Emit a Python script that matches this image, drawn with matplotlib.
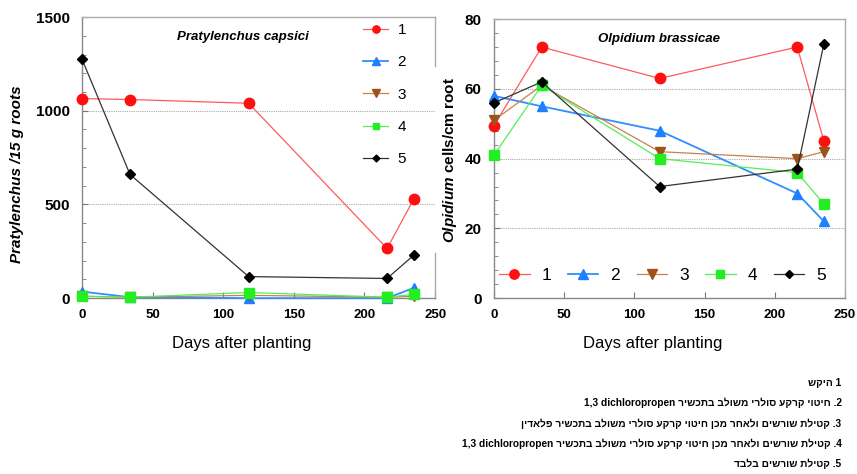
import re
import matplotlib
matplotlib.use("Agg")
import matplotlib.pyplot as plt
from matplotlib.ticker import MultipleLocator

plt.rcParams['font.family'] = ['Liberation Sans', 'DejaVu Sans']
plt.rcParams['mathtext.fontset'] = 'custom'
plt.rcParams['mathtext.it'] = 'Liberation Sans:italic:bold'
plt.rcParams['mathtext.rm'] = 'Liberation Sans:bold'

# ---- data -------------------------------------------------------------
days = [0, 34, 118, 216, 235]
series_names = ['1', '2', '3', '4', '5']

# Pratylenchus capsici per 15 g roots
praty_1 = [1065, 1060, 1040, 265, 530]
praty_2 = [35, 5, 0, 0, 55]
praty_3 = [10, 5, 15, 5, 10]
praty_4 = [10, 5, 30, 5, 20]
praty_5 = [1275, 660, 115, 105, 230]

# Olpidium brassicae cells per cm root
olp_1 = [49.5, 72, 63, 72, 45]
olp_2 = [58, 55, 48, 30, 22]
olp_3 = [51, 61, 42, 40, 42]
olp_4 = [41, 61, 40, 36, 27]
olp_5 = [56, 62, 32, 37, 73]

x_ticks = [0, 50, 100, 150, 200, 250]

treatments = [
    "1 היקש",
    "2. חיטוי קרקע סולרי משולב בתכשיר 1,3 dichloropropen",
    "3. קטילת שורשים ולאחר מכן חיטוי קרקע סולרי משולב בתכשיר פלאדין",
    "4. קטילת שורשים ולאחר מכן חיטוי קרקע סולרי משולב בתכשיר 1,3 dichloropropen",
    "5. קטילת שורשים בלבד",
]

# ---- styles -----------------------------------------------------------
styles = [
    dict(color='#FF5A5A', marker='o', mfc='#FF1010', mec='#FF1010', ms=7.5, lw=0.9),
    dict(color='#2F8FFF', marker='^', mfc='#1E7FFF', mec='#1E7FFF', ms=7.5, lw=1.3),
    dict(color='#C8804E', marker='v', mfc='#A0501A', mec='#A0501A', ms=7.5, lw=0.9),
    dict(color='#55EE55', marker='s', mfc='#22EE22', mec='#22EE22', ms=7, lw=0.9),
    dict(color='#333333', marker='D', mfc='#000000', mec='#000000', ms=5, lw=0.9),
]


def visual_rtl(s):
    """matplotlib lays text out left to right; put an RTL line in display order."""
    r = s[::-1]
    return re.sub(r'[A-Za-z0-9][A-Za-z0-9 ,]*[A-Za-z0-9]|[A-Za-z0-9]',
                  lambda m: m.group(0)[::-1], r)


def style_axes(ax, ymax, ymajor, yminor, grid_vals):
    ax.set_xlim(0, 250)
    ax.set_ylim(0, ymax)
    ax.set_xticks(x_ticks)
    ax.yaxis.set_major_locator(MultipleLocator(ymajor))
    ax.yaxis.set_minor_locator(MultipleLocator(yminor))
    ax.tick_params(axis='both', which='both', direction='in', color='#777777')
    ax.tick_params(axis='both', which='major', length=4, width=0.8)
    ax.tick_params(axis='y', which='minor', length=3, width=0.6)
    ax.tick_params(axis='x', labelsize=9.5, pad=8)
    ax.tick_params(axis='y', labelsize=11, pad=9)
    for lab in ax.get_xticklabels() + ax.get_yticklabels():
        lab.set_fontweight('bold')
    for v in grid_vals:
        ax.axhline(v, color='#AAAAAA', lw=0.8, ls=(0, (1, 1)), zorder=1)
    for side in ['left', 'bottom']:
        ax.spines[side].set_color('#888888')
    for side in ['top', 'right']:
        ax.spines[side].set_color('#AAAAAA')
    for sp in ax.spines.values():
        sp.set_linewidth(1.0)


fig = plt.figure(figsize=(8.57, 4.74), dpi=100)

# ---- left panel: Pratylenchus ----------------------------------------
ax1 = fig.add_axes([0.0957, 0.371, 0.412, 0.593])
for vals, name, st in zip([praty_1, praty_2, praty_3, praty_4, praty_5], series_names, styles):
    ax1.plot(days, vals, label=name, clip_on=False, zorder=3, **st)
style_axes(ax1, 1500, 500, 100, [500, 1000])
ax1.text(0.455, 0.93, 'Pratylenchus capsici', transform=ax1.transAxes,
         ha='center', va='center', fontsize=9.5, fontweight='bold', style='italic')
ax1.set_xlabel('Days after planting', fontsize=12)
ax1.xaxis.set_label_coords(0.453, -0.135)
ax1.set_ylabel('Pratylenchus /15 g roots', fontsize=11, fontweight='bold', style='italic')
ax1.yaxis.set_label_coords(-0.163, 0.44)
# right border is broken where the legend sits
ax1.spines['right'].set_visible(False)
ax1.plot([1, 1], [0, 0.16], transform=ax1.transAxes, color='#AAAAAA', lw=1.0, clip_on=False)
ax1.plot([1, 1], [0.825, 1], transform=ax1.transAxes, color='#AAAAAA', lw=1.0, clip_on=False)
leg1 = ax1.legend(loc='upper left', bbox_to_anchor=(0.77, 1.012), frameon=False,
                  fontsize=11, markerscale=0.7, handlelength=1.65, labelspacing=1.2,
                  handletextpad=0.6, borderaxespad=0.2)

# ---- right panel: Olpidium -------------------------------------------
ax2 = fig.add_axes([0.5764, 0.371, 0.4096, 0.5886])
for vals, name, st in zip([olp_1, olp_2, olp_3, olp_4, olp_5], series_names, styles):
    ax2.plot(days, vals, label=name, clip_on=False, zorder=3, **st)
style_axes(ax2, 80, 20, 4, [20, 40, 60])
ax2.text(0.47, 0.93, 'Olpidium brassicae', transform=ax2.transAxes,
         ha='center', va='center', fontsize=9.5, fontweight='bold', style='italic')
ax2.set_xlabel('Days after planting', fontsize=12)
ax2.xaxis.set_label_coords(0.453, -0.135)
ax2.set_ylabel(r'$\mathit{Olpidium}$ cells/cm root', fontsize=11, fontweight='bold')
ax2.yaxis.set_label_coords(-0.1, 0.495)
leg2 = ax2.legend(loc='center left', bbox_to_anchor=(0.0, 0.082), frameon=False, ncol=5,
                  fontsize=12.5, markerscale=0.9, handlelength=1.75, columnspacing=0.95,
                  handletextpad=0.7, borderaxespad=0.0, borderpad=0.3)

# ---- treatment key ---------------------------------------------------
for i, line in enumerate(treatments):
    fig.text(0.982, 1 - (383 + 20.2 * i) / 474, visual_rtl(line), ha='right', va='center',
             fontsize=7.3, fontweight='bold')

fig.savefig('out.png', dpi=100)
